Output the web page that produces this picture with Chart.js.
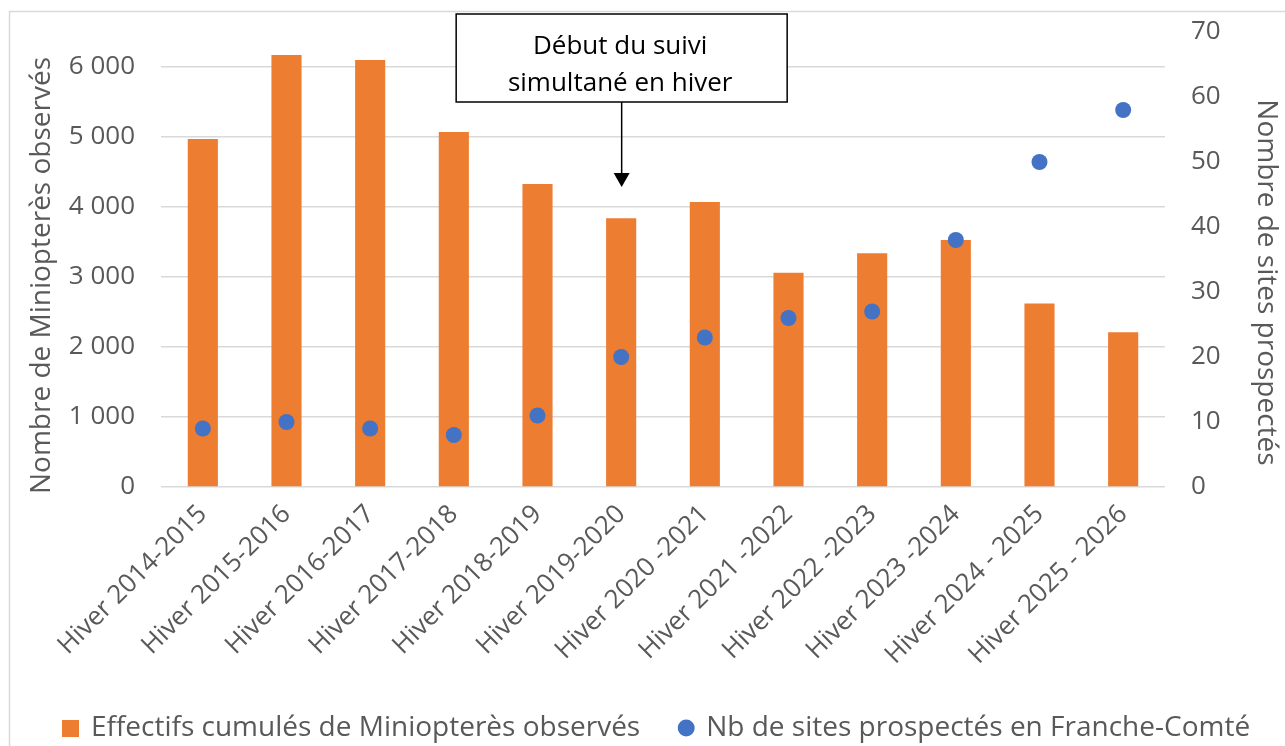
<!DOCTYPE html>
<html>
<head>
<meta charset="utf-8">
<script src="https://cdn.jsdelivr.net/npm/chart.js@4/dist/chart.umd.min.js"></script>
<style>
  html, body { margin: 0; padding: 0; background: #fff; }
  canvas { display: block; }
</style>
</head>
<body>
<canvas id="chart" width="1285" height="746"></canvas>
<script>
// data
const winters = [
  "Hiver 2014-2015", "Hiver 2015-2016", "Hiver 2016-2017", "Hiver 2017-2018",
  "Hiver 2018-2019", "Hiver 2019-2020", "Hiver 2020 -2021", "Hiver 2021 -2022",
  "Hiver 2022 -2023", "Hiver 2023 -2024", "Hiver 2024 - 2025", "Hiver 2025 - 2026"
];
const effectifs = [4970, 6170, 6100, 5070, 4330, 3840, 4070, 3060, 3340, 3530, 2620, 2210];
const sites = [9, 10, 9, 8, 11, 20, 23, 26, 27, 38, 50, 58];
const leftTicks = [0, 1000, 2000, 3000, 4000, 5000, 6000];
const rightTicks = [0, 10, 20, 30, 40, 50, 60, 70];
const annotationIndex = 5;
const annotationLines = ["Début du suivi", "simultané en hiver"];
const leftTitle = "Nombre de Miniopterès observés";
const rightTitle = "Nombre de sites prospectés";

const FONT = "'Open Sans', 'Noto Sans', sans-serif";
const GREY = "#595959";
const ORANGE = "#ED7D31";
const BLUE = "#4472C4";

function fmtThousands(v) {
  return String(v).replace(/\B(?=(\d{3})+(?!\d))/g, " ");
}

// square legend marker for the bars
const barMarker = document.createElement("canvas");
barMarker.width = 17;
barMarker.height = 17;
barMarker.getContext("2d").fillStyle = ORANGE;
barMarker.getContext("2d").fillRect(0, 0, 17, 17);

// light frame around the chart (cut by the window on right/bottom)
const framePlugin = {
  id: "frame",
  beforeDraw(chart) {
    const ctx = chart.ctx;
    ctx.save();
    ctx.fillStyle = "#fff";
    ctx.fillRect(0, 0, chart.width, chart.height);
    ctx.strokeStyle = "#D9D9D9";
    ctx.lineWidth = 1.5;
    ctx.beginPath();
    ctx.moveTo(9.5, chart.height);
    ctx.lineTo(9.5, 11.5);
    ctx.lineTo(chart.width, 11.5);
    ctx.stroke();
    ctx.restore();
  },
  afterLayout(chart) {
    // nudge the legend a bit to the right, like the original
    chart.legend.left += 15;
    chart.legend.right += 15;
  }
};

// axis titles, centred a little lower than the plot area like the original
const axisTitlePlugin = {
  id: "axisTitles",
  afterDraw(chart) {
    const ctx = chart.ctx;
    const mid = (chart.chartArea.top + chart.chartArea.bottom) / 2;
    ctx.save();
    ctx.fillStyle = GREY;
    ctx.font = "28px " + FONT;
    ctx.textAlign = "center";
    ctx.textBaseline = "middle";
    ctx.translate(42, mid + 16);
    ctx.rotate(-Math.PI / 2);
    ctx.fillText(leftTitle, 0, 0);
    ctx.restore();

    ctx.save();
    ctx.fillStyle = GREY;
    ctx.font = "28px " + FONT;
    ctx.textAlign = "center";
    ctx.textBaseline = "middle";
    ctx.translate(1266, mid + 23);
    ctx.rotate(Math.PI / 2);
    ctx.fillText(rightTitle, 0, 0);
    ctx.restore();
  }
};

// text box + arrow pointing at the winter the simultaneous survey started
const calloutPlugin = {
  id: "callout",
  afterDatasetsDraw(chart) {
    const ctx = chart.ctx;
    const x = chart.scales.x.getPixelForValue(annotationIndex);
    ctx.save();
    ctx.fillStyle = "#fff";
    ctx.fillRect(x - 165, 14, 331, 88);
    ctx.strokeStyle = "#000";
    ctx.lineWidth = 1.5;
    ctx.strokeRect(x - 165, 14, 331, 88);

    ctx.fillStyle = "#000";
    ctx.font = "26px " + FONT;
    ctx.textAlign = "center";
    ctx.textBaseline = "alphabetic";
    ctx.fillText(annotationLines[0], x - 1, 54);
    ctx.fillText(annotationLines[1], x - 1, 91);

    ctx.beginPath();
    ctx.moveTo(x + 0.5, 102);
    ctx.lineTo(x + 0.5, 174);
    ctx.stroke();
    ctx.beginPath();
    ctx.moveTo(x - 7.5, 173);
    ctx.lineTo(x + 8.5, 173);
    ctx.lineTo(x + 0.5, 187);
    ctx.closePath();
    ctx.fill();
    ctx.restore();
  }
};

function fixWidth(w) {
  return function (scale) {
    scale.width = w;
    scale.paddingTop = 0;
    scale.paddingBottom = 0;
  };
}

const ctx = document.getElementById("chart").getContext("2d");
new Chart(ctx, {
  data: {
    labels: winters,
    datasets: [
      {
        type: "bar",
        label: "Effectifs cumulés de Miniopterès observés",
        data: effectifs,
        backgroundColor: ORANGE,
        borderWidth: 0,
        barPercentage: 0.36,
        categoryPercentage: 1,
        yAxisID: "y",
        order: 2,
        pointStyle: barMarker
      },
      {
        type: "line",
        label: "Nb de sites prospectés en Franche-Comté",
        data: sites,
        showLine: false,
        backgroundColor: BLUE,
        borderColor: BLUE,
        pointRadius: 8,
        pointBorderWidth: 0,
        pointStyle: "circle",
        yAxisID: "y1",
        order: 1
      }
    ]
  },
  options: {
    responsive: false,
    animation: false,
    devicePixelRatio: 1,
    layout: { padding: { top: 32, left: 0, right: 0, bottom: -6 } },
    plugins: {
      tooltip: { enabled: false },
      legend: {
        position: "bottom",
        labels: {
          usePointStyle: true,
          boxWidth: 12,
          boxHeight: 12,
          padding: 40,
          color: GREY,
          font: { family: FONT, size: 28 },
          sort: (a, b) => a.datasetIndex - b.datasetIndex
        }
      }
    },
    scales: {
      x: {
        grid: { display: false },
        border: { display: false },
        ticks: {
          color: GREY,
          font: { family: FONT, size: 26 },
          minRotation: 45,
          maxRotation: 45,
          padding: 4
        },
        afterFit(scale) { scale.height = 187; }
      },
      y: {
        position: "left",
        min: 0,
        max: 6500,
        afterBuildTicks(scale) {
          scale.ticks = leftTicks.map(v => ({ value: v }));
        },
        grid: { color: "#D9D9D9", lineWidth: 1.5, drawTicks: false },
        border: { display: false },
        ticks: {
          color: GREY,
          font: { family: FONT, size: 26 },
          padding: 26,
          callback: v => fmtThousands(v)
        },
        afterFit: fixWidth(161)
      },
      y1: {
        position: "right",
        min: 0,
        max: 70,
        afterBuildTicks(scale) {
          scale.ticks = rightTicks.map(v => ({ value: v }));
        },
        grid: { display: false, drawTicks: false },
        border: { display: false },
        ticks: {
          color: GREY,
          font: { family: FONT, size: 26 },
          padding: 26
        },
        afterFit: fixWidth(120)
      }
    }
  },
  plugins: [framePlugin, axisTitlePlugin, calloutPlugin]
});
</script>
</body>
</html>
